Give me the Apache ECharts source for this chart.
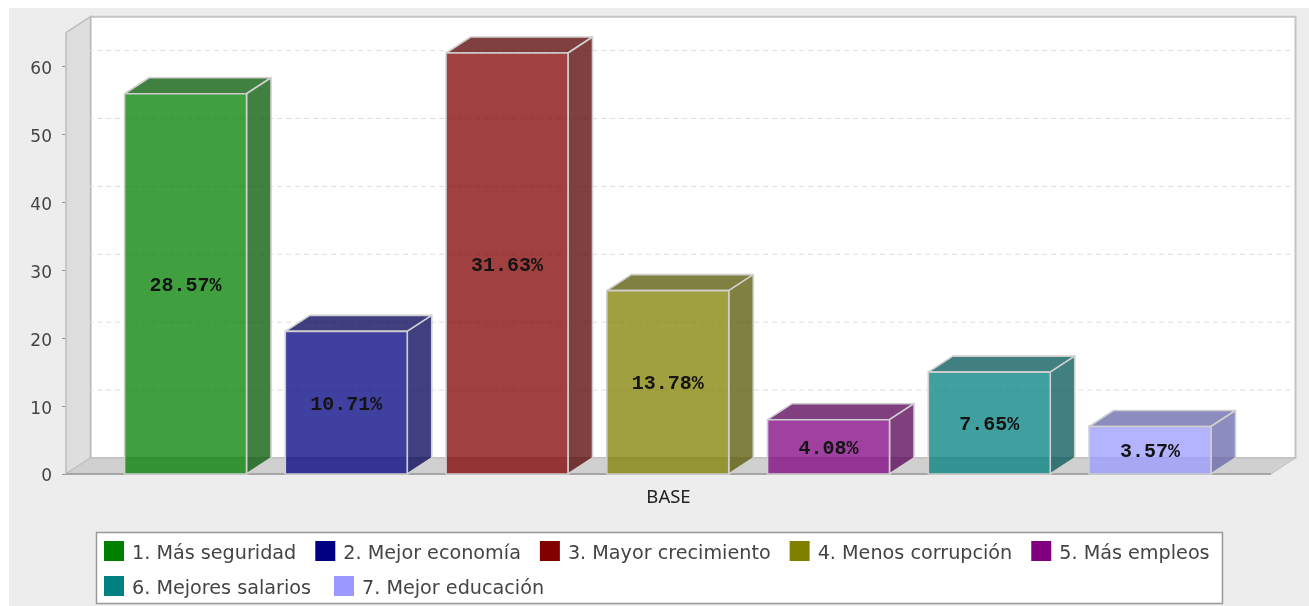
<!DOCTYPE html>
<html><head><meta charset="utf-8">
<script src="https://cdn.jsdelivr.net/npm/echarts@6/dist/echarts.min.js"></script>
<style>html,body{margin:0;padding:0;background:#fff}#c{width:1309px;height:606px}</style>
</head><body><div id="c"></div>
<script>
const categories = ['BASE'];
const seriesNames = ['1. Más seguridad','2. Mejor economía','3. Mayor crecimiento','4. Menos corrupción','5. Más empleos','6. Mejores salarios','7. Mejor educación'];
const seriesValues = [56,21,62,27,8,15,7];
const seriesPercents = ['28.57%','10.71%','31.63%','13.78%','4.08%','7.65%','3.57%'];
const seriesColors = ['#008000','#000080','#800000','#808000','#800080','#008080','#9999ff'];
const sideColors = ['#005500','#000055','#550000','#555500','#550055','#005555','#6666aa'];
const yTicks = [0,10,20,30,40,50,60];

const DX = 24.5, DY = 16;           // oblique depth of the 3D projection
const BAR_STEP = 0.1334, BAR_W = 0.1012, BAR_SHIFT = -0.0006; // fractions of the category band
const EDGE = '#cfcfcf';
const alpha = c => echarts.color.modifyAlpha(c, 0.75);

function frameItem(params, api) {
  const o = api.coord([0, 0]);
  const band = api.size([1, 0])[0];
  const top = api.coord([0, 65])[1], y0 = o[1];
  const L = o[0] - band / 2, R = o[0] + band / 2;
  const children = [
    {type:'polygon',shape:{points:[[L+DX,top-DY],[R+DX,top-DY],[R+DX,y0-DY],[L+DX,y0-DY]]},style:{fill:'#fff',stroke:'#c4c4c4',lineWidth:2}},
    {type:'polygon',shape:{points:[[L,top],[L+DX,top-DY],[L+DX,y0-DY],[L,y0]]},style:{fill:'#dedede',stroke:'#bdbdbd',lineWidth:1.5}},
    {type:'polygon',shape:{points:[[L,y0],[L+DX,y0-DY],[R+DX,y0-DY],[R,y0]]},style:{fill:'#d0d0d0',stroke:'#c0c0c0',lineWidth:1}},
    {type:'line',shape:{x1:L,y1:y0,x2:R,y2:y0},style:{stroke:'#999',lineWidth:1.5}}
  ];
  yTicks.slice(1).forEach(t => {
    const y = api.coord([0, t])[1];
    children.push({type:'polyline',shape:{points:[[L,y],[L+DX,y-DY],[R+DX,y-DY]]},style:{fill:null,stroke:'#dcdcdc',lineWidth:1,lineDash:[5,4]}});
  });
  return {type:'group',children};
}

function barItem(i) {
  return function (params, api) {
    const v = api.value(1);
    const c = api.coord([0, v]), o = api.coord([0, 0]);
    const band = api.size([1, 0])[0];
    const cx = c[0] + ((i - 3) * BAR_STEP + BAR_SHIFT) * band;
    const w = band * BAR_W;
    const x1 = cx - w / 2, x2 = cx + w / 2, yt = c[1], yb = o[1];
    const edge = {stroke: EDGE, lineWidth: 1.6, lineJoin: 'round'};
    const side = {fill: alpha(sideColors[i])};
    return {type:'group',children:[
      {type:'polygon',shape:{points:[[x1,yt],[x1+DX,yt-DY],[x2+DX,yt-DY],[x2,yt]]},style:Object.assign({},side,edge)},
      {type:'polygon',shape:{points:[[x2,yt],[x2+DX,yt-DY],[x2+DX,yb-DY],[x2,yb]]},style:Object.assign({},side,edge)},
      {type:'rect',shape:{x:x1,y:yt,width:w,height:yb-yt},style:Object.assign({fill:alpha(seriesColors[i])},edge)},
      {type:'text',x:cx,y:(yt+yb)/2+2,style:{text:seriesPercents[i],fill:'#141414',font:'bold 20px "Liberation Mono"',align:'center',verticalAlign:'middle'}}
    ]};
  };
}

const series = [{
  name:'__frame',type:'custom',data:[[0,0]],renderItem:frameItem,silent:true,z:1,clip:false,
  encode:{x:0,y:1},animation:false
}];
seriesNames.forEach((n,i)=>{
  series.push({name:n,type:'custom',data:[[0,seriesValues[i]]],renderItem:barItem(i),z:2,clip:false,
    encode:{x:0,y:1},itemStyle:{color:seriesColors[i]},animation:false});
});

const legendCommon = {orient:'horizontal',itemWidth:20,itemHeight:20,padding:0,selectedMode:false,z:6,
  formatter:n=>'{t|'+n+'}',
  textStyle:{color:'#444',fontFamily:'DejaVu Sans',fontSize:19.2,
    rich:{t:{color:'#444',fontFamily:'DejaVu Sans',fontSize:19.2,padding:[6,0,0,3]}}}};

const chart = echarts.init(document.getElementById('c'));
chart.setOption({
  animation:false,
  graphic:[
    {type:'rect',z:-10,silent:true,shape:{x:9,y:8,width:1300,height:598},style:{fill:'#ededed'}},
    {type:'rect',z:5,silent:true,shape:{x:96.5,y:532.5,width:1126,height:71},style:{fill:'#fff',stroke:'#999',lineWidth:1.5}}
  ],
  grid:{left:66,right:38,top:32.65,bottom:132},
  xAxis:{type:'category',data:categories,axisLine:{show:false},axisTick:{show:false},
    axisLabel:{color:'#222',fontFamily:'Noto Sans',fontSize:18.5,margin:14}},
  yAxis:{type:'value',min:0,max:65,interval:10,splitLine:{show:false},
    axisLine:{show:false},
    axisTick:{show:true,length:4,lineStyle:{color:'#999'},customValues:yTicks},
    axisLabel:{color:'#444',fontFamily:'DejaVu Sans',fontSize:17,margin:14,customValues:yTicks,
      formatter:v=>'{a|'+v+'}',
      rich:{a:{color:'#444',fontFamily:'DejaVu Sans',fontSize:17,padding:[6,0,0,0]}}}},
  legend:[
    Object.assign({data:seriesNames.slice(0,5).map(name=>({name,icon:'rect'})),left:104,top:541,itemGap:19},legendCommon),
    Object.assign({data:seriesNames.slice(5).map(name=>({name,icon:'rect'})),left:104,top:576,itemGap:23},legendCommon)
  ],
  series
});
</script></body></html>
